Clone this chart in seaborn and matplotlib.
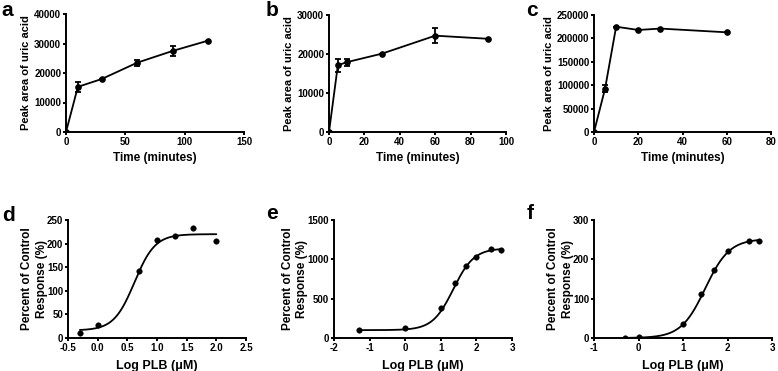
import numpy as np
import pandas as pd
import seaborn as sns
import matplotlib
matplotlib.use("Agg")
import matplotlib.pyplot as plt

# top row: time course of uric acid peak area
time_a = [0, 10, 30, 60, 90, 120]
area_a = [0, 15300, 17950, 23500, 27500, 31000]
err_a = [0, 1700, 0, 1000, 1800, 0]

time_b = [0, 5, 10, 30, 60, 90]
area_b = [0, 17100, 17900, 20100, 24700, 23900]
err_b = [0, 1600, 900, 0, 2000, 0]

time_c = [0, 5, 10, 20, 30, 60]
area_c = [0, 92600, 225000, 218000, 221000, 213000]
err_c = [0, 8000, 0, 0, 0, 0]

# bottom row: dose response
logc_d = [-0.3, 0.0, 0.7, 1.0, 1.3, 1.6, 2.0]
resp_d = [10.6, 27.5, 142, 208, 216, 233, 206]
logc_e = [-1.3, 0.0, 1.0, 1.4, 1.7, 2.0, 2.4, 2.7]
resp_e = [101, 131, 380, 701, 921, 1035, 1128, 1120]
logc_f = [-0.3, 0.0, 1.0, 1.4, 1.7, 2.0, 2.48, 2.7]
resp_f = [0, 1.7, 35.5, 111, 173, 220, 246, 246]

# sigmoid fit parameters (bottom, top, logEC50, hill)
fit_d = (16, 220, 0.62, 2.5)
fit_e = (100, 1140, 1.35, 1.5)
fit_f = (0, 252, 1.5, 1.6)

sns.set_style("ticks")
plt.rcParams['font.family'] = ['Liberation Sans', 'DejaVu Sans']
plt.rcParams['font.weight'] = 'bold'
plt.rcParams['axes.labelweight'] = 'bold'
plt.rcParams['axes.linewidth'] = 1.4
plt.rcParams['xtick.major.width'] = 1.4
plt.rcParams['ytick.major.width'] = 1.4
plt.rcParams['xtick.major.size'] = 2.5
plt.rcParams['ytick.major.size'] = 2.5
plt.rcParams['xtick.color'] = 'black'
plt.rcParams['ytick.color'] = 'black'
plt.rcParams['text.color'] = 'black'
plt.rcParams['axes.labelcolor'] = 'black'
plt.rcParams['axes.edgecolor'] = 'black'

fig = plt.figure(figsize=(7.78, 3.71), dpi=100)

W, H = 778, 371
def add_ax(x0, x1, ytop, ybot):
    return fig.add_axes([x0 / W, 1 - ybot / H, (x1 - x0) / W, (ybot - ytop) / H])

top_axes = [add_ax(66, 244, 14, 132), add_ax(329, 506, 15, 132), add_ax(594, 771, 15, 132)]
bot_axes = [add_ax(68, 246, 220, 338), add_ax(334, 512, 220, 338), add_ax(594, 772, 220, 338)]

top_data = [(time_a, area_a, err_a, 150, 50, 40000, 10000),
            (time_b, area_b, err_b, 100, 20, 30000, 10000),
            (time_c, area_c, err_c, 80, 20, 250000, 50000)]

for ax, (t, a, e, xmax, xstep, ymax, ystep) in zip(top_axes, top_data):
    df = pd.DataFrame({"t": t, "a": a})
    sns.lineplot(data=df, x="t", y="a", ax=ax, color="black", lw=1.3,
                 marker="o", markersize=4, markeredgecolor="black")
    ax.errorbar(t, a, yerr=e, fmt="none", ecolor="black", elinewidth=1.3,
                capsize=2.5, capthick=1.3)
    ax.set_xlim(0, xmax)
    ax.set_ylim(0, ymax)
    ax.set_xticks(np.arange(0, xmax + 1, xstep))
    ax.set_yticks(np.arange(0, ymax + 1, ystep))
    ax.set_xlabel("Time (minutes)", fontsize=8.5, labelpad=3.5)
    ax.set_ylabel("Peak area of uric acid", fontsize=8, labelpad=2)

def sigmoid(x, p):
    b, t, ec, h = p
    return b + (t - b) / (1 + 10 ** ((ec - x) * h))

bot_data = [(logc_d, resp_d, fit_d, (-0.5, 2.5), np.arange(-0.5, 2.51, 0.5), 250, 50, "%.1f"),
            (logc_e, resp_e, fit_e, (-2, 3), np.arange(-2, 4, 1), 1500, 500, "%d"),
            (logc_f, resp_f, fit_f, (-1, 3), np.arange(-1, 4, 1), 300, 100, "%d")]

for ax, (x, y, p, xl, xt, ymax, ystep, fmt) in zip(bot_axes, bot_data):
    xs = np.linspace(min(x), max(x), 200)
    sns.lineplot(x=xs, y=sigmoid(xs, p), ax=ax, color="black", lw=1.3)
    sns.scatterplot(x=x, y=y, ax=ax, color="black", s=16, edgecolor="black")
    ax.set_xlim(*xl)
    ax.set_ylim(0, ymax)
    ax.set_xticks(xt)
    ax.set_xticklabels([fmt % v for v in xt])
    ax.set_yticks(np.arange(0, ymax + 1, ystep))
    ax.set_xlabel("Log PLB (\u03bcM)", fontsize=9, labelpad=5)
    ax.set_ylabel("Percent of Control\nResponse (%)", fontsize=8.5, labelpad=-0.5,
                  linespacing=1.3)

for ax in top_axes + bot_axes:
    sns.despine(ax=ax)
    ax.tick_params(labelsize=7, pad=1)
    for lab in ax.get_xticklabels() + ax.get_yticklabels():
        lab.set_fontweight('bold')

letters = [("a", 1, 16), ("b", 266, 16), ("c", 526, 16),
           ("d", 2, 221), ("e", 266, 219), ("f", 527, 219)]
for s, px, py in letters:
    fig.text(px / W, 1 - py / H, s, fontsize=15, fontweight="bold")

fig.savefig("out.png", dpi=100)
